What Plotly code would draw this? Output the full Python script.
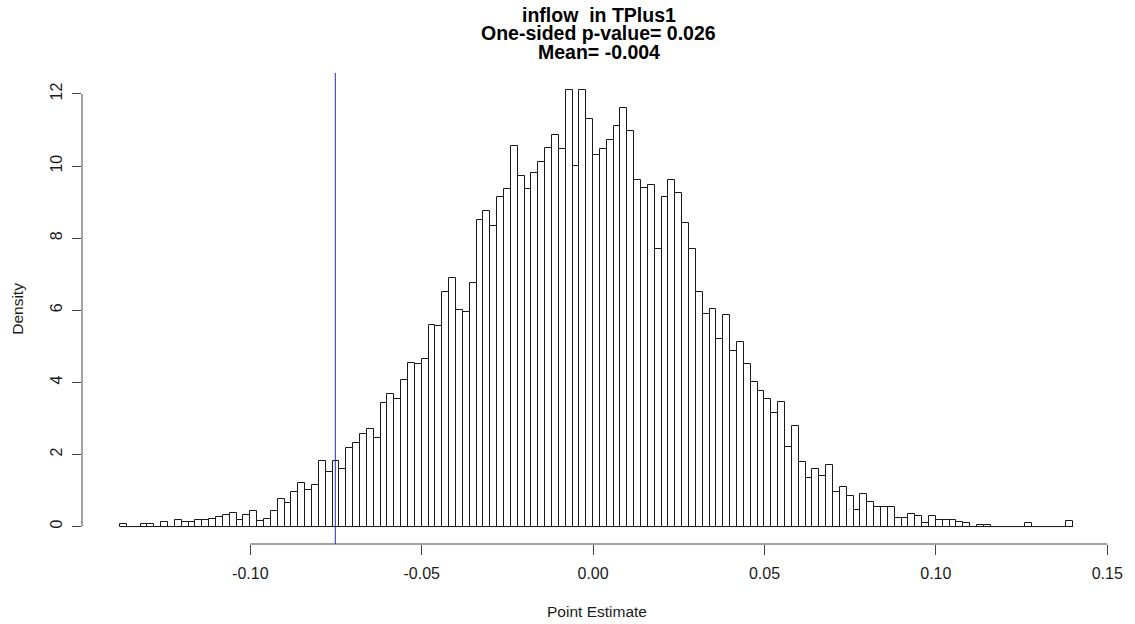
import plotly.graph_objects as go

# ---- data (histogram of bootstrap point estimates) ----
BREAK_START = -0.138
BIN_WIDTH = 0.002
density = [
    0.06, 0, 0, 0.06, 0.06, 0, 0.12, 0, 0.175, 0.12,
    0.12, 0.175, 0.175, 0.22, 0.27, 0.31, 0.37, 0.175, 0.31, 0.42,
    0.16, 0.21, 0.42, 0.77, 0.66, 0.96, 1.22, 1.02, 1.16, 1.81,
    1.51, 1.81, 1.61, 2.17, 2.31, 2.57, 2.71, 2.46, 3.42, 3.67,
    3.53, 4.06, 4.55, 4.51, 4.64, 5.60, 5.55, 6.50, 6.90, 6.00,
    5.96, 6.75, 8.50, 8.75, 8.35, 9.15, 9.36, 10.56, 9.71, 9.36,
    9.81, 10.11, 10.50, 10.86, 10.46, 12.10, 10.00, 12.10, 11.30, 10.30,
    10.46, 10.71, 11.10, 11.60, 10.96, 9.61, 9.40, 9.46, 7.70, 9.15,
    9.61, 9.25, 8.41, 7.70, 6.50, 5.89, 6.04, 5.21, 5.86, 4.86,
    5.11, 4.50, 4.00, 3.75, 3.55, 3.15, 3.45, 2.21, 2.79, 1.79,
    1.35, 1.60, 1.39, 1.70, 0.95, 1.09, 0.84, 0.45, 0.90, 0.69,
    0.55, 0.55, 0.55, 0.24, 0.24, 0.34, 0.30, 0.10, 0.30, 0.19,
    0.19, 0.19, 0.14, 0.10, 0, 0.05, 0.05, 0, 0, 0,
    0, 0, 0.10, 0, 0, 0, 0, 0, 0.15,
]
OBSERVED = -0.0752
x_tickvals = [-0.10, -0.05, 0.00, 0.05, 0.10, 0.15]
x_ticktext = ["-0.10", "-0.05", "0.00", "0.05", "0.10", "0.15"]
y_tickvals = [0, 2, 4, 6, 8, 10, 12]
y_ticktext = ["0", "2", "4", "6", "8", "10", "12"]
title_lines = ["inflow \u00a0in TPlus1", "One-sided p-value= 0.026", "Mean= -0.004"]
x_title = "Point Estimate"
y_title = "Density"

n = len(density)
edges = [BREAK_START + BIN_WIDTH * i for i in range(n + 1)]
centers = [(edges[i] + edges[i + 1]) / 2 for i in range(n)]

FONT = "Liberation Sans, Arial, sans-serif"
INK = "#1a1a1a"

fig = go.Figure()
fig.add_trace(go.Scatter(
    x=[edges[0], edges[-1]], y=[0, 0], mode="lines",
    line=dict(color=INK, width=1), hoverinfo="skip", showlegend=False,
))
fig.add_trace(go.Bar(
    x=centers, y=density, width=BIN_WIDTH,
    marker=dict(color="white", line=dict(color=INK, width=1)),
    showlegend=False,
))

fig.update_layout(
    width=1135, height=624,
    margin=dict(l=82, r=19, t=73, b=80),
    paper_bgcolor="white", plot_bgcolor="white",
    bargap=0,
    font=dict(family=FONT, size=16, color=INK),
    xaxis=dict(
        range=[-0.1491, 0.1511], tickvals=x_tickvals, ticktext=x_ticktext,
        ticks="outside", ticklen=10, tickwidth=1, tickcolor="#444",
        showgrid=False, zeroline=False, showline=False,
        ticklabelstandoff=5, tickfont=dict(size=16),
    ),
    yaxis=dict(
        range=[-0.484, 12.58], tickvals=y_tickvals, ticktext=y_ticktext,
        ticks="outside", ticklen=9, tickwidth=1, tickcolor="#444",
        showgrid=False, zeroline=False, showline=False,
        tickangle=-90, ticklabelstandoff=4, tickfont=dict(size=16),
    ),
    shapes=[
        dict(type="line", xref="x", yref="paper", x0=x_tickvals[0], x1=x_tickvals[-1],
             y0=0, y1=0, line=dict(color="#444", width=1)),
        dict(type="line", xref="paper", yref="y", x0=0, x1=0,
             y0=y_tickvals[0], y1=y_tickvals[-1], line=dict(color="#444", width=1)),
        dict(type="line", xref="x", yref="paper", x0=OBSERVED, x1=OBSERVED,
             y0=0, y1=1, line=dict(color="#2a2ab8", width=1), layer="above"),
    ],
)

annotations = []
title_y = [1.124, 1.084, 1.0437]
for txt, yy in zip(title_lines, title_y):
    annotations.append(dict(
        text="<b>" + txt + "</b>", xref="paper", yref="paper", x=0.5024, y=yy,
        xanchor="center", yanchor="middle", showarrow=False,
        font=dict(family=FONT, size=19.5, color="black"),
    ))
annotations.append(dict(
    text=x_title, xref="paper", yref="paper", x=0.5, y=-0.1436,
    xanchor="center", yanchor="middle", showarrow=False,
    font=dict(family=FONT, size=15.5, color=INK),
))
annotations.append(dict(
    text=y_title, xref="paper", yref="paper", x=-0.0629, y=0.5,
    xanchor="center", yanchor="middle", showarrow=False, textangle=-90,
    font=dict(family=FONT, size=15.5, color=INK),
))
fig.update_layout(annotations=annotations)

fig.write_html(
    "out.html",
    config={"displayModeBar": False},
    post_script="document.body.style.margin='0';document.body.style.overflow='hidden';",
)
